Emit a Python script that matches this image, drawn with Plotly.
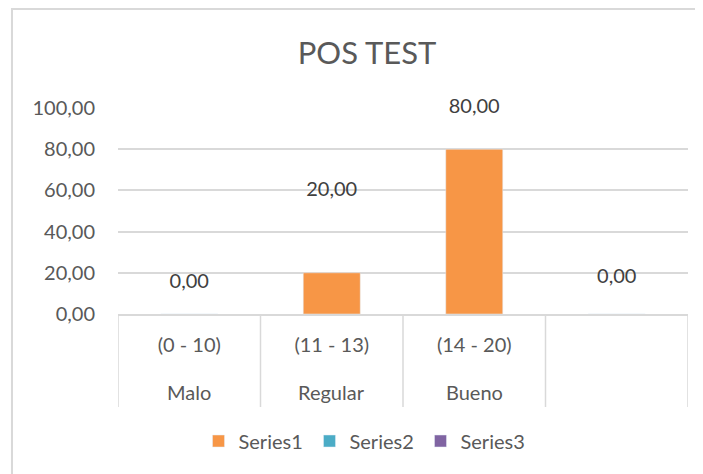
import plotly.graph_objects as go

# ---- data ----
groups = ["Malo", "Regular", "Bueno", ""]
ranges = ["(0 - 10)", "(11 - 13)", "(14 - 20)", " "]
series1 = [0, 20, 80, 0]
series2 = [None, None, None, None]
series3 = [None, None, None, None]
label_text = ["0,00", "20,00", "80,00", "0,00"]
label_y = [15.2, 59.5, 100, 17.5]
y_ticks = [0, 20, 40, 60, 80, 100]

FONT = "Lato, 'Open Sans', sans-serif"
GRID = "#D9D9D9"
TXT = "#595959"

# page body has an 8px margin, so the figure is sized to fit inside the window
W, H = 695, 466
L, R, T, B = 110, 15, 100, 160
plot_h = H - T - B

fig = go.Figure()
fig.add_trace(go.Bar(x=ranges, y=series1, name="Series1", marker_color="#F79646", width=0.4))
fig.add_trace(go.Bar(x=ranges, y=series2, name="Series2", marker_color="#4BACC6", width=0.4))
fig.add_trace(go.Bar(x=ranges, y=series3, name="Series3", marker_color="#8064A2", width=0.4))
fig.add_trace(go.Scatter(x=ranges, y=label_y, text=label_text, mode="text",
                         textposition="middle center", showlegend=False,
                         textfont=dict(family=FONT, size=20, color="#404040"),
                         cliponaxis=False, hoverinfo="skip"))

# second level of category labels
for cat, grp in zip(ranges, groups):
    fig.add_annotation(x=cat, xref="x", y=-78 / plot_h, yref="paper",
                       text=grp, showarrow=False, yanchor="middle",
                       font=dict(family=FONT, size=20, color=TXT))

# category dividers below the axis
n = len(ranges)
for i in range(n + 1):
    fig.add_shape(type="line", xref="x", yref="paper",
                  x0=i - 0.5, x1=i - 0.5, y0=0, y1=-93 / plot_h,
                  line=dict(color=GRID, width=1.5))

# outer border (left and top edges of the chart area)
fig.add_shape(type="path", xref="paper", yref="paper",
              path="M -0.186 -0.8 L -0.186 1.48 L 1.05 1.48",
              line=dict(color=GRID, width=2))

fig.update_layout(
    width=W, height=H,
    margin=dict(l=L, r=R, t=T, b=B),
    paper_bgcolor="white", plot_bgcolor="white",
    barmode="overlay",
    separators=",.",
    font=dict(family=FONT, size=20, color=TXT),
    title=dict(text="POS TEST", x=359 / W, xref="container", xanchor="center",
               y=1 - 45 / H, yref="container", yanchor="middle",
               font=dict(family=FONT, size=31, color=TXT)),
    legend=dict(orientation="h", x=357 / W, xref="container", xanchor="center",
                y=1 - 433 / H, yref="container", yanchor="middle",
                font=dict(family=FONT, size=20, color=TXT),
                entrywidth=66, entrywidthmode="pixels", itemclick=False),
    xaxis=dict(type="category", categoryorder="array", categoryarray=ranges,
               range=[-0.5, n - 0.5],
               showline=True, linecolor=GRID, linewidth=1.5,
               tickfont=dict(family=FONT, size=20, color=TXT),
               showgrid=False, ticks="", ticklabelstandoff=12),
    yaxis=dict(range=[0, 100], tickvals=y_ticks, tickformat=".2f",
               showgrid=True, gridcolor=GRID, gridwidth=1.5,
               zeroline=False, showline=False, ticks="",
               ticklabelstandoff=22,
               tickfont=dict(family=FONT, size=20, color=TXT)),
)

fig.write_html("out.html")
